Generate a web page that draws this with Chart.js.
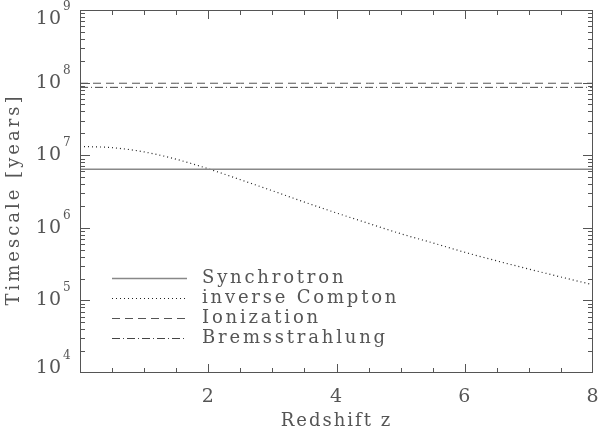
<!DOCTYPE html>
<html lang="en">
<head>
<meta charset="UTF-8">
<title>Timescales vs redshift</title>
<script src="https://cdn.jsdelivr.net/npm/chart.js"></script>
<style>
  body { margin: 0; background: #fff; }
  canvas { display: block; }
</style>
</head>
<body>
<canvas id="chart" width="600" height="432"></canvas>
<script>
// data
const redshift = [0, 0.5, 1, 1.5, 2, 2.5, 3, 3.5, 4, 4.5, 5, 5.5, 6, 6.5, 7, 7.5, 8];
const synchrotron = [6.4e6, 6.4e6, 6.4e6, 6.4e6, 6.4e6, 6.4e6, 6.4e6, 6.4e6, 6.4e6, 6.4e6, 6.4e6, 6.4e6, 6.4e6, 6.4e6, 6.4e6, 6.4e6, 6.4e6];
const inverseCompton = [1.32e7, 1.27e7, 1.11e7, 8.8e6, 6.5e6, 4.6e6, 3.24e6, 2.26e6, 1.6e6, 1.15e6, 8.3e5, 6.2e5, 4.6e5, 3.5e5, 2.7e5, 2.1e5, 1.64e5];
const ionization = [9.8e7, 9.8e7, 9.8e7, 9.8e7, 9.8e7, 9.8e7, 9.8e7, 9.8e7, 9.8e7, 9.8e7, 9.8e7, 9.8e7, 9.8e7, 9.8e7, 9.8e7, 9.8e7, 9.8e7];
const bremsstrahlung = [8.6e7, 8.6e7, 8.6e7, 8.6e7, 8.6e7, 8.6e7, 8.6e7, 8.6e7, 8.6e7, 8.6e7, 8.6e7, 8.6e7, 8.6e7, 8.6e7, 8.6e7, 8.6e7, 8.6e7];
const xTickLabels = [2, 4, 6, 8];
const yDecades = [4, 5, 6, 7, 8, 9];

const FONT = '"DejaVu Serif", "Liberation Serif", serif';
const INK = '#555';

function pts(vals) {
  return redshift.map((z, i) => ({ x: z, y: vals[i] }));
}

// axes, ticks (pointing inward), labels and legend drawn by hand, IDL style
const idlAxes = {
  id: 'idlAxes',
  afterDraw(chart) {
    const ctx = chart.ctx;
    const a = chart.chartArea;
    const xs = chart.scales.x, ys = chart.scales.y;
    ctx.save();
    ctx.strokeStyle = INK;
    ctx.lineWidth = 1;
    ctx.strokeRect(a.left + 0.5, a.top + 0.5, a.right - a.left - 1, a.bottom - a.top - 1);

    // x ticks every 0.5, long at the labelled ones
    ctx.beginPath();
    for (let z = 0.5; z < 8; z += 0.5) {
      const px = Math.round(xs.getPixelForValue(z)) + 0.5;
      const len = (z % 2 === 0) ? 9 : 5;
      ctx.moveTo(px, a.bottom); ctx.lineTo(px, a.bottom - len);
      ctx.moveTo(px, a.top); ctx.lineTo(px, a.top + len);
    }
    // y ticks: decades long, 2..9 short
    for (let d = 4; d < 9; d++) {
      for (let m = 1; m < 10; m++) {
        const v = m * Math.pow(10, d);
        if (m === 1 && d === 4) continue;
        const py = Math.round(ys.getPixelForValue(v)) + 0.5;
        const len = m === 1 ? 10 : 5;
        ctx.moveTo(a.left, py); ctx.lineTo(a.left + len, py);
        ctx.moveTo(a.right, py); ctx.lineTo(a.right - len, py);
      }
    }
    ctx.stroke();

    ctx.fillStyle = INK;
    ctx.letterSpacing = '1px';
    // x tick labels
    ctx.font = '19px ' + FONT;
    ctx.textAlign = 'center';
    ctx.textBaseline = 'middle';
    xTickLabels.forEach(t => {
      ctx.fillText(String(t), xs.getPixelForValue(t), a.bottom + 24);
    });

    // y tick labels 10^n
    yDecades.forEach(d => {
      let py = ys.getPixelForValue(Math.pow(10, d));
      py = Math.max(a.top + 9, Math.min(a.bottom - 5, py));
      ctx.font = '19px ' + FONT;
      ctx.textAlign = 'right';
      ctx.textBaseline = 'middle';
      ctx.fillText('10', 62, py);
      ctx.font = '12px ' + FONT;
      ctx.textAlign = 'left';
      ctx.textBaseline = 'alphabetic';
      ctx.fillText(String(d), 63, py - 9);
    });

    // axis titles
    ctx.letterSpacing = '2px';
    ctx.font = '18px ' + FONT;
    ctx.textAlign = 'center';
    ctx.textBaseline = 'middle';
    ctx.fillText('Redshift z', (a.left + a.right) / 2, a.bottom + 48);
    ctx.save();
    ctx.letterSpacing = '3px';
    ctx.translate(14, (a.top + a.bottom) / 2 + 8);
    ctx.rotate(-Math.PI / 2);
    ctx.fillText('Timescale [years]', 0, 0);
    ctx.restore();

    // legend
    ctx.letterSpacing = '2.8px';
    chart.data.datasets.forEach((ds, i) => {
      const y = 278 + i * 20;
      ctx.save();
      ctx.strokeStyle = ds.borderColor;
      ctx.lineWidth = ds.borderWidth;
      ctx.setLineDash(ds.borderDash || []);
      ctx.beginPath();
      ctx.moveTo(112, y + 0.5); ctx.lineTo(187, y + 0.5);
      ctx.stroke();
      ctx.restore();
      ctx.textAlign = 'left';
      ctx.fillText(ds.label, 202, y);
    });
    ctx.restore();
  }
};

new Chart(document.getElementById('chart'), {
  type: 'line',
  data: {
    datasets: [
      { label: 'Synchrotron', data: pts(synchrotron), borderColor: '#888', borderWidth: 1.5, borderDash: [] },
      { label: 'inverse Compton', data: pts(inverseCompton), borderColor: '#222', borderWidth: 1.2, borderDash: [1, 3], cubicInterpolationMode: 'monotone' },
      { label: 'Ionization', data: pts(ionization), borderColor: '#555', borderWidth: 1, borderDash: [8, 5] },
      { label: 'Bremsstrahlung', data: pts(bremsstrahlung), borderColor: '#444', borderWidth: 1, borderDash: [8, 3, 1, 3] }
    ]
  },
  options: {
    responsive: false,
    animation: false,
    layout: { padding: { left: 80, top: 10, right: 7, bottom: 59 } },
    elements: { point: { radius: 0 } },
    scales: {
      x: { type: 'linear', min: 0, max: 8, display: false },
      y: { type: 'logarithmic', min: 1e4, max: 1e9, display: false }
    },
    plugins: { legend: { display: false }, tooltip: { enabled: false } }
  },
  plugins: [idlAxes]
});
</script>
</body>
</html>
